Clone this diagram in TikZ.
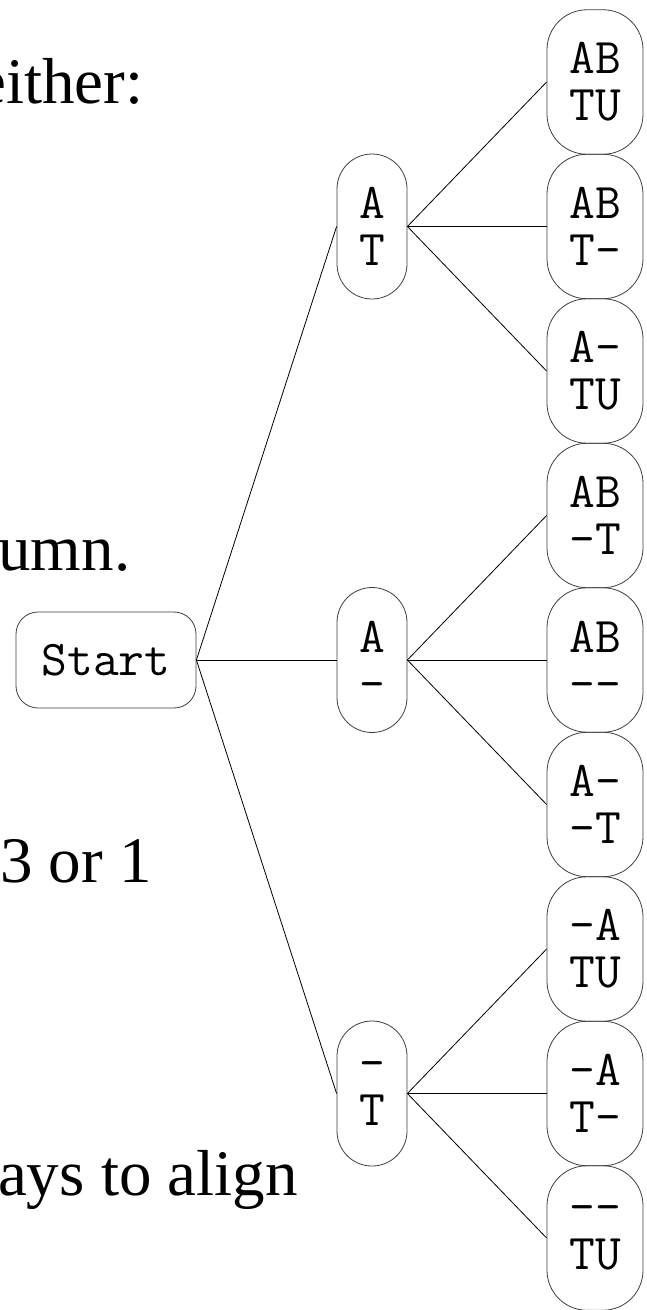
\documentclass[tikz,border=0pt]{standalone}
\usepackage{fontspec}
\setmainfont{Liberation Serif}
\begin{document}
\begin{tikzpicture}[x=1pt,y=-1pt,
  slidetext/.style={font=\fontsize{65}{78}\selectfont, inner sep=0pt},
  boxbase/.style={draw=black!75, line width=0.8pt, align=center, inner sep=0pt,
    font=\ttfamily\fontsize{50}{47}\selectfont},
  startbox/.style={boxbase, rounded corners=22pt, minimum width=180pt, minimum height=96pt},
  midbox/.style={boxbase, rounded corners=35pt, minimum width=70pt, minimum height=145pt},
  leafbox/.style={boxbase, rounded corners=40pt, minimum width=96pt, minimum height=144.5pt},
  conn/.style={draw=black, line width=0.8pt}]
\useasboundingbox (0,0) rectangle (647,1310);
\fill[white] (0,0) rectangle (647,1310);
% slide text fragments
\node[slidetext, anchor=base east] (t1) at (143.5,103) {either:};
\node[slidetext, anchor=base east] (t2) at (130.5,570) {umn.};
\node[slidetext, anchor=base west] (t3) at (0,882) {3 or 1};
\node[slidetext, anchor=base east] (t4) at (298,1195) {ays to align};
% tree
\node[startbox] (s) at (106,660) {Start};
\node[midbox] (m1) at (372,226.5) {A\\T};
\node[midbox] (m2) at (372,660) {A\\-};
\node[midbox] (m3) at (372,1093.5) {-\\T};
\node[leafbox] (l1) at (595,82) {AB\\TU};
\node[leafbox] (l2) at (595,226.5) {AB\\T-};
\node[leafbox] (l3) at (595,371) {A-\\TU};
\node[leafbox] (l4) at (595,515.5) {AB\\-T};
\node[leafbox] (l5) at (595,660) {AB\\--};
\node[leafbox] (l6) at (595,804.5) {A-\\-T};
\node[leafbox] (l7) at (595,949) {-A\\TU};
\node[leafbox] (l8) at (595,1093.5) {-A\\T-};
\node[leafbox] (l9) at (595,1238) {--\\TU};
\foreach \m in {m1,m2,m3} \draw[conn] (s.east) -- (\m.west);
\foreach \l in {l1,l2,l3} \draw[conn] (m1.east) -- (\l.west);
\foreach \l in {l4,l5,l6} \draw[conn] (m2.east) -- (\l.west);
\foreach \l in {l7,l8,l9} \draw[conn] (m3.east) -- (\l.west);
\end{tikzpicture}
\end{document}
